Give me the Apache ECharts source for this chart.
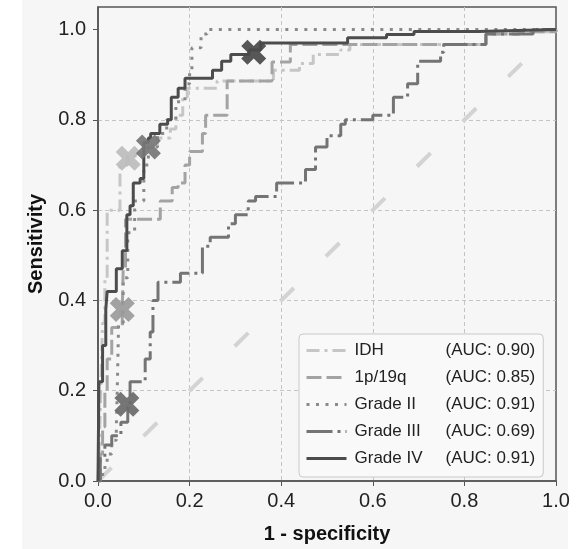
<!DOCTYPE html>
<html>
<head>
<meta charset="utf-8">
<script src="https://cdn.jsdelivr.net/npm/echarts@6/dist/echarts.min.js"></script>
<style>
  html, body { margin: 0; padding: 0; background: #fff; }
  #container { width: 586px; height: 549px; }
</style>
</head>
<body>
<div id="container"></div>
<script>
var seriesNames = ['IDH', '1p/19q', 'Grade II', 'Grade III', 'Grade IV'];
var aucValues = ['0.90', '0.85', '0.91', '0.69', '0.91'];
var axisTicks = [0, 0.2, 0.4, 0.6, 0.8, 1.0];

// ROC staircase: [1 - specificity, sensitivity reached at that x]
var idhRoc = [[0,0],[0.003,0.08],[0.006,0.2],[0.01,0.35],[0.015,0.45],[0.02,0.6],[0.048,0.7],[0.065,0.72],
  [0.1,0.74],[0.13,0.76],[0.158,0.78],[0.17,0.81],[0.185,0.85],[0.195,0.87],[0.26,0.886],[0.383,0.91],
  [0.44,0.925],[0.47,0.945],[0.53,0.955],[0.55,0.967],[0.847,0.99],[0.92,0.995],[1,1]];
var codelRoc = [[0,0],[0.005,0.06],[0.01,0.12],[0.015,0.2],[0.02,0.27],[0.03,0.34],[0.053,0.38],[0.055,0.47],
  [0.06,0.58],[0.136,0.62],[0.162,0.65],[0.175,0.66],[0.19,0.70],[0.2,0.73],[0.228,0.77],[0.235,0.81],
  [0.282,0.886],[0.38,0.928],[0.42,0.967],[0.847,0.99],[0.92,0.995],[1,1]];
var grade2Roc = [[0,0],[0.01,0.03],[0.02,0.06],[0.03,0.09],[0.04,0.12],[0.042,0.2],[0.045,0.35],[0.055,0.45],
  [0.065,0.55],[0.08,0.62],[0.1,0.70],[0.11,0.74],[0.13,0.77],[0.15,0.80],[0.17,0.84],[0.19,0.88],
  [0.2,0.905],[0.205,0.96],[0.225,0.99],[0.238,1.0],[1,1]];
var grade3Roc = [[0,0],[0.005,0.05],[0.015,0.08],[0.03,0.10],[0.05,0.13],[0.065,0.17],[0.07,0.22],[0.103,0.27],
  [0.114,0.33],[0.12,0.40],[0.131,0.44],[0.18,0.46],[0.228,0.52],[0.245,0.54],[0.285,0.57],[0.30,0.59],
  [0.328,0.62],[0.344,0.63],[0.39,0.66],[0.453,0.69],[0.475,0.74],[0.50,0.765],[0.53,0.79],[0.54,0.80],
  [0.60,0.81],[0.645,0.85],[0.676,0.88],[0.698,0.93],[0.748,0.95],[0.755,0.967],[0.847,0.99],[0.95,1.0],[1,1]];
var grade4Roc = [[0,0],[0.002,0.22],[0.01,0.30],[0.017,0.38],[0.02,0.42],[0.04,0.47],[0.053,0.51],[0.063,0.59],
  [0.07,0.61],[0.077,0.66],[0.092,0.67],[0.1,0.75],[0.11,0.76],[0.115,0.77],[0.135,0.79],[0.152,0.80],
  [0.16,0.85],[0.175,0.87],[0.19,0.892],[0.25,0.91],[0.27,0.93],[0.29,0.945],[0.33,0.955],[0.355,0.97],
  [0.545,0.982],[0.63,0.989],[0.69,0.996],[0.83,1.0],[1,1]];
var chanceLine = [[0,0],[1,1]];
// optimal cut-off of each curve, same order as seriesNames
var cutoffPoints = [[0.066,0.715],[0.053,0.38],[0.11,0.74],[0.063,0.17],[0.34,0.95]];

var rocCurves = [idhRoc, codelRoc, grade2Roc, grade3Roc, grade4Roc];
var lineColors = ['#c6c6c6', '#a3a3a3', '#8a8a8a', '#747474', '#4c4c4c'];
var markColors = ['#bcbcbc', '#9b9b9b', '#767676', '#6b6b6b', '#4a4a4a'];
var dashTypes = [[13, 5, 3, 5], [15, 5], [3, 6.5], [26, 5, 3, 5], 'solid'];
var font = 'Liberation Sans, Arial, sans-serif';
var crossPath = 'path://M2.5,0L5,2.5L7.5,0L10,2.5L7.5,5L10,7.5L7.5,10L5,7.5L2.5,10L0,7.5L2.5,5L0,2.5Z';

var dom = document.getElementById('container');
var myChart = echarts.init(dom);

var series = [{
    name: 'chance',
    type: 'line',
    data: chanceLine,
    symbol: 'none',
    silent: true,
    z: 1,
    lineStyle: { color: '#d3d3d3', width: 4, type: [19, 45] }
}];
rocCurves.forEach(function (curve, i) {
    series.push({
        name: seriesNames[i],
        type: 'line',
        step: 'end',
        data: curve,
        symbol: 'none',
        silent: true,
        z: 2 + i,
        itemStyle: { color: lineColors[i] },
        lineStyle: { color: lineColors[i], width: 3, type: dashTypes[i], cap: 'butt' }
    });
});
cutoffPoints.forEach(function (p, i) {
    series.push({
        name: seriesNames[i] + ' cut-off',
        type: 'scatter',
        data: [p],
        symbol: crossPath,
        symbolSize: 25,
        silent: true,
        z: 10,
        itemStyle: { color: markColors[i], opacity: 0.93 }
    });
});

var option = {
    animation: false,
    textStyle: { fontFamily: font },
    graphic: [{
        type: 'rect', z: -10, silent: true,
        shape: { x: 22, y: 0, width: 546, height: 549 },
        style: { fill: '#f6f6f6' }
    }],
    grid: {
        left: 98, right: 30, top: 7, bottom: 62,
        show: true, borderColor: '#555', borderWidth: 1.5, backgroundColor: 'transparent'
    },
    legend: {
        orient: 'vertical',
        left: 299, top: 334,
        data: seriesNames,
        itemWidth: 40, itemHeight: 14, itemGap: 10,
        padding: [8, 8, 10, 6],
        backgroundColor: '#f9f9f9',
        borderColor: '#c9c9c9', borderWidth: 1, borderRadius: 4,
        itemStyle: { opacity: 0 },
        lineStyle: { width: 3 },
        selectedMode: false,
        formatter: function (name) {
            return '{n|' + name + '}{a|(AUC: ' + aucValues[seriesNames.indexOf(name)] + ')}';
        },
        textStyle: {
            fontFamily: font, fontSize: 17, color: '#222', padding: [0, 0, 0, 3],
            rich: {
                n: { width: 91, fontSize: 17, lineHeight: 17, fontFamily: font, color: '#222' },
                a: { fontSize: 17, lineHeight: 17, fontFamily: font, color: '#222' }
            }
        }
    },
    xAxis: {
        type: 'value', min: 0, max: 1, interval: 0.2,
        name: '1 - specificity', nameLocation: 'middle', nameGap: 43,
        nameTextStyle: { fontFamily: font, fontSize: 20, fontWeight: 'bold', color: '#111' },
        axisLine: { show: true, lineStyle: { color: '#555', width: 1.5 } },
        axisTick: { show: true, length: 5, lineStyle: { color: '#555' } },
        axisLabel: {
            fontSize: 20, color: '#222', margin: 10, fontFamily: font,
            formatter: function (v) { return v.toFixed(1); }
        },
        splitLine: { show: true, showMinLine: false, showMaxLine: false,
            lineStyle: { color: '#c4c4c4', type: [4, 3], width: 1 } }
    },
    yAxis: {
        type: 'value', min: 0, max: 1.05, interval: 0.2,
        name: 'Sensitivity', nameLocation: 'middle', nameGap: 52,
        nameTextStyle: { fontFamily: font, fontSize: 20, fontWeight: 'bold', color: '#111' },
        axisLine: { show: true, lineStyle: { color: '#555', width: 1.5 } },
        axisTick: { show: true, length: 5, customValues: axisTicks, lineStyle: { color: '#555' } },
        axisLabel: {
            fontSize: 20, color: '#222', margin: 12, fontFamily: font,
            customValues: axisTicks,
            formatter: function (v) { return v > 1.001 ? '' : v.toFixed(1); }
        },
        splitLine: { show: true, showMinLine: false, showMaxLine: false,
            lineStyle: { color: '#c4c4c4', type: [4, 3], width: 1 } }
    },
    series: series
};

myChart.setOption(option, true);
</script>
</body>
</html>
